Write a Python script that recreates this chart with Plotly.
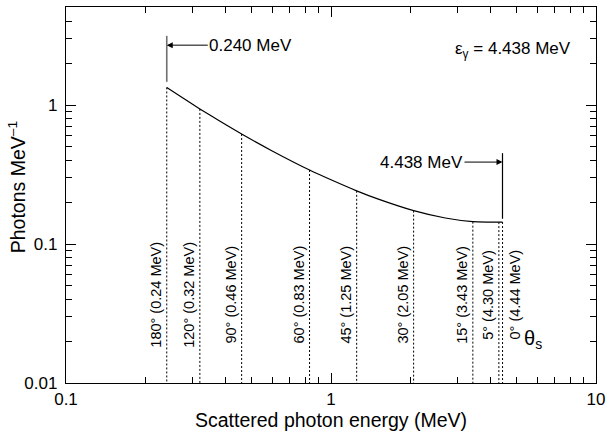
import math
import plotly.graph_objects as go

# Compton continuum for a 4.438 MeV gamma ray
energies = [0.24, 0.28, 0.32, 0.38, 0.46, 0.6, 0.83, 1.0, 1.25, 1.5, 2.05, 2.7, 3.43, 3.9, 4.3, 4.438]
photons = [1.34, 1.106, 0.939, 0.767, 0.619, 0.468, 0.341, 0.290, 0.2415, 0.2113, 0.174, 0.154, 0.1449, 0.1439, 0.1439, 0.1440]

# Scattering angles and the corresponding scattered-photon energies
angles = [180, 120, 90, 60, 45, 30, 15, 5, 0]
angle_energies = [0.24, 0.32, 0.46, 0.83, 1.25, 2.05, 3.43, 4.30, 4.44]
angle_heights = [1.34, 0.939, 0.619, 0.341, 0.2415, 0.174, 0.1449, 0.1439, 0.1440]

# Edge markers
low_edge = 0.240
low_edge_span = [1.47, 3.15]
low_edge_arrow_y = 2.70
high_edge = 4.438
high_edge_span = [0.152, 0.451]
high_edge_arrow_y = 0.389

x_major = [0.1, 1, 10]
x_minor = [0.2, 0.3, 0.4, 0.5, 0.6, 0.7, 0.8, 0.9, 2, 3, 4, 5, 6, 7, 8, 9]
y_major = [0.01, 0.1, 1]
y_minor = [0.02, 0.03, 0.04, 0.05, 0.06, 0.07, 0.08, 0.09,
           0.2, 0.3, 0.4, 0.5, 0.6, 0.7, 0.8, 0.9, 2, 3, 4, 5]

FONT = "Liberation Sans, Arial, Helvetica, sans-serif"
Y_BOTTOM = 0.01

fig = go.Figure()

# dotted verticals from the curve down to the axis
vx, vy = [], []
for e, h in zip(angle_energies, angle_heights):
    vx += [e, e, None]
    vy += [h, Y_BOTTOM, None]
fig.add_trace(go.Scatter(x=vx, y=vy, mode="lines",
                         line=dict(color="black", width=1, dash="2px,2px"),
                         hoverinfo="skip", showlegend=False))

# spectrum
fig.add_trace(go.Scatter(x=energies, y=photons, mode="lines",
                         line=dict(color="black", width=1.2, shape="spline", smoothing=0.6),
                         showlegend=False))

# edge markers
fig.add_trace(go.Scatter(x=[low_edge, low_edge], y=low_edge_span, mode="lines",
                         line=dict(color="#707070", width=1.6), showlegend=False))
fig.add_trace(go.Scatter(x=[high_edge, high_edge], y=high_edge_span, mode="lines",
                         line=dict(color="black", width=1.2), showlegend=False))

ann = []
# edge labels with arrows pointing at the edge markers
ann.append(dict(x=math.log10(low_edge), y=math.log10(low_edge_arrow_y), xref="x", yref="y",
                text="0.240 MeV", showarrow=True, ax=84, ay=0, arrowhead=2, arrowsize=1.2,
                arrowwidth=1, arrowcolor="black", standoff=0,
                font=dict(family=FONT, size=17, color="black")))
ann.append(dict(x=math.log10(high_edge), y=math.log10(high_edge_arrow_y), xref="x", yref="y",
                text="4.438 MeV", showarrow=True, ax=-81, ay=0, arrowhead=2, arrowsize=1.2,
                arrowwidth=1, arrowcolor="black", standoff=0,
                font=dict(family=FONT, size=17, color="black")))

# angle labels
for a, e in zip(angles, angle_energies):
    right_side = (a == 0)
    ann.append(dict(x=math.log10(e), y=-1.366, xref="x", yref="y",
                    text=f"{a}° ({e:.2f} MeV)", showarrow=False, textangle=-90,
                    xanchor="left" if right_side else "right",
                    xshift=2 if right_side else -1,
                    font=dict(family=FONT, size=14.5, color="black")))
ann.append(dict(x=math.log10(angle_energies[-1]), y=-1.688, xref="x", yref="y",
                text="θ<sub>s</sub>", showarrow=False, xanchor="left", xshift=19,
                font=dict(family=FONT, size=20, color="black")))

# source energy
ann.append(dict(x=0.957, y=0.921, xref="paper", yref="paper",
                text="ε<sub>γ</sub> = 4.438 MeV", showarrow=False, xanchor="right",
                font=dict(family=FONT, size=17, color="black")))

# axis titles
ann.append(dict(x=0.5, y=-0.099, xref="paper", yref="paper",
                text="Scattered photon energy (MeV)", showarrow=False,
                xanchor="center", yanchor="middle",
                font=dict(family=FONT, size=19.5, color="black")))
ann.append(dict(x=-0.091, y=0.52, xref="paper", yref="paper",
                text="Photons MeV<sup>–1</sup>", showarrow=False, textangle=-90,
                xanchor="center", yanchor="middle",
                font=dict(family=FONT, size=19.5, color="black")))

axis_common = dict(
    type="log", showgrid=False, zeroline=False,
    showline=True, linecolor="black", linewidth=1.3, mirror="ticks",
    ticks="inside", ticklen=10, tickwidth=1, tickcolor="black",
    tickmode="array",
    tickfont=dict(family=FONT, size=17, color="black"),
)

fig.update_layout(
    width=611, height=431,
    margin=dict(l=66, r=13, t=6, b=48),
    paper_bgcolor="white", plot_bgcolor="white",
    annotations=ann,
    showlegend=False,
    xaxis=dict(axis_common, range=[-1, 1], tickvals=x_major, ticktext=["0.1", "1", "10"],
               ticklabelstandoff=0,
               minor=dict(ticks="inside", ticklen=6, tickwidth=1, tickcolor="black",
                          tickmode="array", tickvals=x_minor, showgrid=False)),
    yaxis=dict(axis_common, range=[-2, 0.706], tickvals=y_major, ticktext=["0.01", "0.1", "1"],
               ticklabelstandoff=4,
               minor=dict(ticks="inside", ticklen=6, tickwidth=1, tickcolor="black",
                          tickmode="array", tickvals=y_minor, showgrid=False)),
)

fig.write_html("out.html")
